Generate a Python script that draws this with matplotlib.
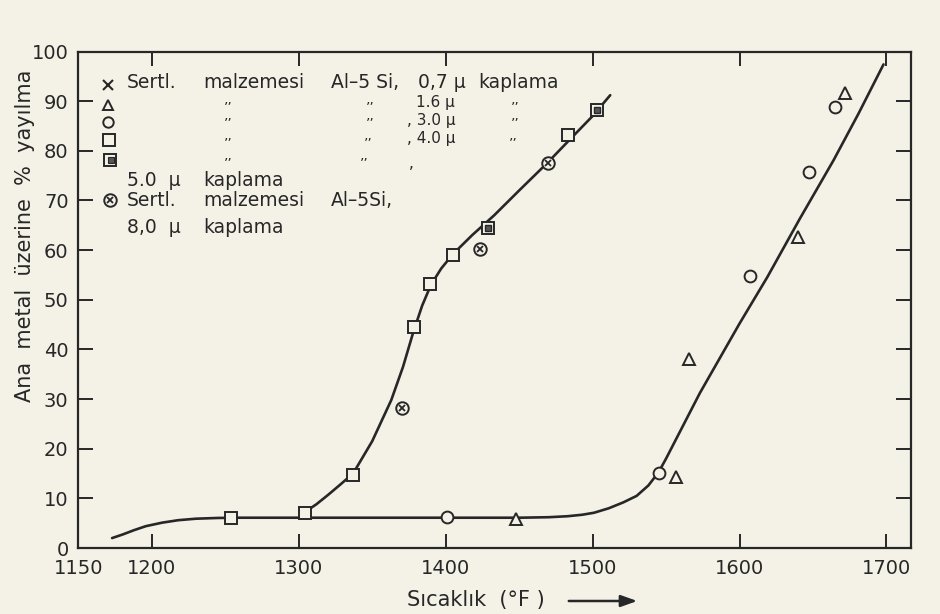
import matplotlib
matplotlib.use('Agg')
import matplotlib.pyplot as plt
from matplotlib.lines import Line2D

plt.rcParams['font.family'] = ['DejaVu Sans']

ink = '#272727'
paper = '#f4f1e7'

# ---------------- data ----------------
x_ticks = [1150, 1200, 1300, 1400, 1500, 1600, 1700]
y_ticks = [0, 10, 20, 30, 40, 50, 60, 70, 80, 90, 100]

# lower curve (flat part + right-hand rise)
curve_a_T = [1173, 1180, 1188, 1196, 1207, 1218, 1230, 1245, 1260, 1300, 1350,
             1400, 1450, 1470, 1483, 1493, 1501, 1511, 1521, 1530, 1538, 1545,
             1550, 1573, 1600, 1619, 1641, 1664, 1681, 1698]
curve_a_v = [2.0, 2.7, 3.6, 4.4, 5.1, 5.6, 5.9, 6.05, 6.1, 6.1, 6.1,
             6.1, 6.1, 6.2, 6.4, 6.7, 7.1, 8.0, 9.2, 10.5, 12.6, 15.3,
             18.0, 31.2, 45.2, 54.6, 66.3, 78.1, 87.5, 97.4]

# left S-shaped curve
curve_b_T = [1304.5, 1312, 1320, 1328, 1337, 1350, 1363, 1371, 1378, 1384, 1390,
             1397, 1405, 1418, 1433, 1450, 1469, 1483, 1500, 1512]
curve_b_v = [7.3, 8.8, 10.7, 12.7, 15.0, 21.5, 29.8, 36.5, 43.5, 48.8, 53.0,
             56.3, 59.2, 63.0, 67.0, 72.0, 77.5, 81.8, 87.0, 91.2]

# 1.6 micron (triangles)
tri_T = [1448, 1557, 1565.4, 1640, 1671.6]
tri_v = [5.8, 14.2, 38.1, 62.7, 91.6]
# 3.0 micron (circles)
cir_T = [1401, 1545, 1607, 1647.5, 1665]
cir_v = [6.2, 15.2, 54.8, 75.8, 88.9]
# 4.0 micron (open squares)
sq_T = [1254, 1304.4, 1336.7, 1378.4, 1389.6, 1405, 1483]
sq_v = [6.0, 7.1, 14.8, 44.6, 53.1, 59.0, 83.2]
# 5.0 micron (filled squares)
sqf_T = [1428.7, 1503.3]
sqf_v = [64.4, 88.2]
# 8.0 micron (circled cross)
cx_T = [1370, 1423.5, 1469.4]
cx_v = [28.1, 60.2, 77.5]

# ---------------- figure ----------------
W, H = 940, 614
fig = plt.figure(figsize=(W / 100, H / 100), dpi=100, facecolor=paper)
L, R, T_, B = 78.3, 910.7, 51.5, 548.0
ax = fig.add_axes([L / W, 1 - B / H, (R - L) / W, (B - T_) / H])
ax.set_facecolor(paper)

ax.plot(curve_a_T, curve_a_v, color=ink, lw=1.9, solid_capstyle='round', zorder=2)
ax.plot(curve_b_T, curve_b_v, color=ink, lw=1.9, solid_capstyle='round', zorder=2)

mk = dict(ls='none', mec=ink, mew=1.4, mfc=paper, zorder=3)
ax.plot(tri_T, tri_v, marker='^', ms=8, **mk)
ax.plot(cir_T, cir_v, marker='o', ms=8.5, **mk)
ax.plot(sq_T, sq_v, marker='s', ms=9, **mk)
ax.plot(sqf_T, sqf_v, marker='s', ms=9, **mk)
ax.plot(sqf_T, sqf_v, marker='s', ms=4.5, ls='none', mec=ink, mfc='#555555', mew=1, zorder=4)
ax.plot(cx_T, cx_v, marker='o', ms=9, **mk)
ax.plot(cx_T, cx_v, marker='x', ms=5, ls='none', mec=ink, mew=1.3, zorder=4)

ax.set_xlim(1150, 1716.5)
ax.set_ylim(0, 100)
ax.set_xticks(x_ticks)
ax.set_xticklabels([str(t) for t in x_ticks])
ax.set_yticks(y_ticks)
ax.set_yticklabels([str(t) for t in y_ticks])
ax.tick_params(axis='both', direction='in', colors=ink, labelsize=14, width=1.4)
ax.tick_params(axis='x', length=10, pad=8, top=True)
ax.tick_params(axis='y', length=11, pad=7, right=True)
for s in ax.spines.values():
    s.set_color(ink)
    s.set_linewidth(1.6)

# ---------------- axis titles ----------------
fig.text(25 / W, 1 - 236 / H, 'Ana  metal  üzerine  %  yayılma', rotation=90,
         ha='center', va='center', fontsize=15, color=ink)
fig.text(407 / W, 1 - 600 / H, 'Sıcaklık  (°F )', ha='left', va='center',
         fontsize=15, color=ink)
fig.add_artist(matplotlib.patches.FancyArrowPatch(
    (566 / W, 1 - 601 / H), (640 / W, 1 - 601 / H), transform=fig.transFigure,
    arrowstyle='-|>,head_length=0.7,head_width=0.25', mutation_scale=14,
    color=ink, lw=1.8))

# ---------------- in-plot legend ----------------
def ftxt(px, py, s, fs=13.5, **kw):
    fig.text(px / W, 1 - py / H, s, ha='left', va='center', fontsize=fs, color=ink, **kw)

def fmark(px, py, **kw):
    fig.add_artist(Line2D([px / W], [1 - py / H], transform=fig.transFigure,
                          ls='none', mec=ink, **kw))

fmark(108, 85, marker='x', ms=7, mew=1.5)
fmark(108, 105, marker='^', ms=7.5, mfc=paper, mew=1.4)
fmark(108, 122, marker='o', ms=7.5, mfc=paper, mew=1.4)
fmark(109, 140, marker='s', ms=8, mfc=paper, mew=1.4)
fmark(110, 160, marker='s', ms=8, mfc=paper, mew=1.4)
fmark(111, 160, marker='s', ms=4, mfc='#555555', mew=0.8)
fmark(110, 200, marker='o', ms=9, mfc=paper, mew=1.4)
fmark(110, 200, marker='x', ms=5, mew=1.3)

ftxt(127, 83, 'Sertl.')
ftxt(203, 83, 'malzemesi')
ftxt(331, 83, 'Al–5 Si,')
ftxt(418, 83, '0,7 µ')
ftxt(478, 83, 'kaplama')

ftxt(416, 103, '1.6 µ', fs=11)
ftxt(407, 120, ', 3.0 µ', fs=11)
ftxt(407, 138, ', 4.0 µ', fs=11)
ftxt(409, 164, ',', fs=11)

for (px, py) in [(224, 108), (224, 124), (224, 144), (224, 164),
                 (366, 108), (366, 124), (364, 144), (360, 164),
                 (511, 108), (511, 124), (509, 144)]:
    ftxt(px, py, '’’', fs=10)

ftxt(127, 180, '5.0  µ')
ftxt(203, 180, 'kaplama')
ftxt(127, 201, 'Sertl.')
ftxt(203, 201, 'malzemesi')
ftxt(331, 201, 'Al–5Si,')
ftxt(127, 228, '8,0  µ')
ftxt(203, 228, 'kaplama')

fig.savefig('out.png', dpi=100, facecolor=paper)
